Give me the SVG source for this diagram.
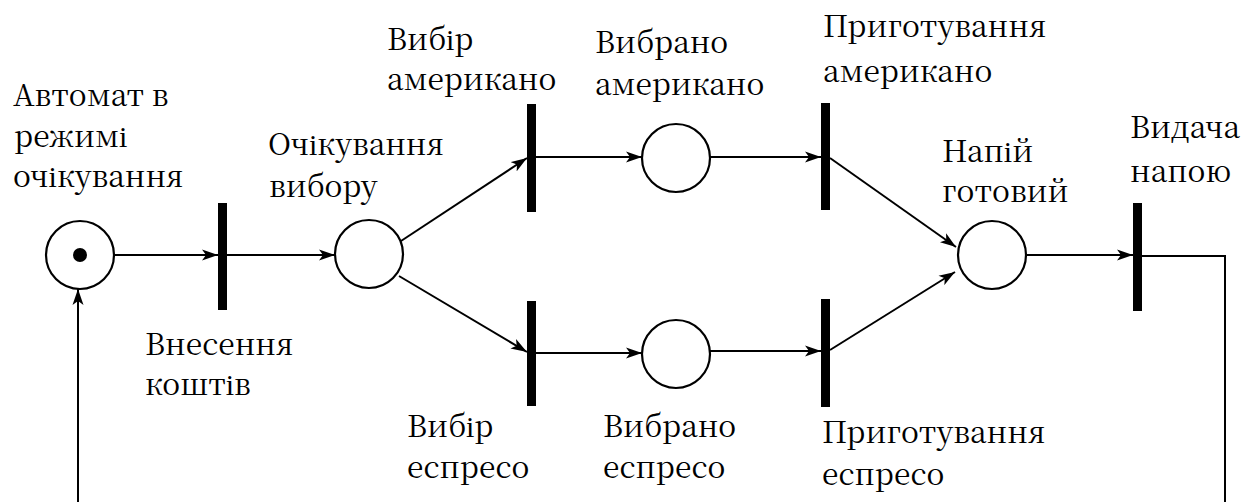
<svg xmlns="http://www.w3.org/2000/svg" width="1249" height="502" viewBox="0 0 1249 502">
  <style>
    .place { fill: #fff; stroke: #000; stroke-width: 2.2; }
    .bar { fill: #000; }
    .arc { fill: none; stroke: #000; stroke-width: 2; }
    .lbl { font-size: 30px; fill: #000; }
  </style>
  <defs>
    <marker id="arrow" markerUnits="userSpaceOnUse" markerWidth="18" markerHeight="12" refX="16" refY="6" orient="auto">
      <path d="M0,0.5 L16,6 L0,11.5 L4,6 Z" fill="#000"/>
    </marker>
  </defs>
  <rect width="1249" height="502" fill="#fff"/>

  <!-- arcs between places and transitions -->
  <g id="connectors">
    <path class="arc" d="M114,255 H218" marker-end="url(#arrow)"/>
    <path class="arc" d="M227,255 H335" marker-end="url(#arrow)"/>
    <path class="arc" d="M401,241 L527,158" marker-end="url(#arrow)"/>
    <path class="arc" d="M399,276 L527,352" marker-end="url(#arrow)"/>
    <path class="arc" d="M536,157 H642" marker-end="url(#arrow)"/>
    <path class="arc" d="M536,353 H642" marker-end="url(#arrow)"/>
    <path class="arc" d="M710,157 H821" marker-end="url(#arrow)"/>
    <path class="arc" d="M710,351 H821" marker-end="url(#arrow)"/>
    <path class="arc" d="M830,158 L956,247" marker-end="url(#arrow)"/>
    <path class="arc" d="M830,350 L955,272" marker-end="url(#arrow)"/>
    <path class="arc" d="M1026,255 H1133" marker-end="url(#arrow)"/>
    <path class="arc" d="M1142,256 H1225 V502"/>
    <path class="arc" d="M78,502 V289" stroke-width="2.6" marker-end="url(#arrow)"/>
  </g>

  <!-- labels use a serif face with Cyrillic coverage -->
  <g font-family="Noto Serif CJK SC, Liberation Serif, serif">
  <!-- places -->
  <g id="p-idle">
    <circle class="place" cx="80" cy="255" r="34"/>
    <circle cx="80" cy="255" r="7" fill="#000"/>
    <text class="lbl" x="13" y="106">Автомат в</text>
    <text class="lbl" x="14" y="147">режимі</text>
    <text class="lbl" x="13" y="187">очікування</text>
  </g>
  <g id="p-waiting">
    <circle class="place" cx="369" cy="254" r="34"/>
    <text class="lbl" x="268" y="155">Очікування</text>
    <text class="lbl" x="269" y="197">вибору</text>
  </g>
  <g id="p-americano-chosen">
    <circle class="place" cx="676" cy="158" r="34"/>
    <text class="lbl" x="595" y="53">Вибрано</text>
    <text class="lbl" x="595" y="95">американо</text>
  </g>
  <g id="p-espresso-chosen">
    <circle class="place" cx="676" cy="354" r="34"/>
    <text class="lbl" x="603" y="437">Вибрано</text>
    <text class="lbl" x="603" y="478">еспресо</text>
  </g>
  <g id="p-ready">
    <circle class="place" cx="992" cy="255" r="34"/>
    <text class="lbl" x="942" y="162">Напій</text>
    <text class="lbl" x="942" y="202">готовий</text>
  </g>

  <!-- transitions -->
  <g id="t-payment">
    <rect class="bar" x="218" y="203" width="9" height="107"/>
    <text class="lbl" x="145" y="355">Внесення</text>
    <text class="lbl" x="145" y="395">коштів</text>
  </g>
  <g id="t-pick-americano">
    <rect class="bar" x="527" y="104" width="9" height="108"/>
    <text class="lbl" x="387" y="50">Вибір</text>
    <text class="lbl" x="387" y="90">американо</text>
  </g>
  <g id="t-pick-espresso">
    <rect class="bar" x="527" y="301" width="9" height="105"/>
    <text class="lbl" x="407" y="437">Вибір</text>
    <text class="lbl" x="407" y="478">еспресо</text>
  </g>
  <g id="t-brew-americano">
    <rect class="bar" x="821" y="103" width="9" height="107"/>
    <text class="lbl" x="823" y="37">Приготування</text>
    <text class="lbl" x="823" y="82">американо</text>
  </g>
  <g id="t-brew-espresso">
    <rect class="bar" x="821" y="299" width="9" height="108"/>
    <text class="lbl" x="822" y="443">Приготування</text>
    <text class="lbl" x="822" y="485">еспресо</text>
  </g>
  <g id="t-dispense">
    <rect class="bar" x="1133" y="203" width="9" height="108"/>
    <text class="lbl" x="1130" y="138">Видача</text>
    <text class="lbl" x="1130" y="182">напою</text>
  </g>
  </g>
</svg>
